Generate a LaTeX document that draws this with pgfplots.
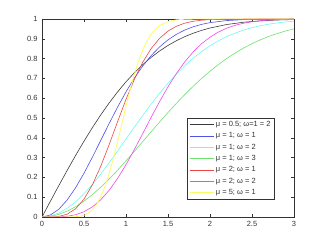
\documentclass[border=0pt]{standalone}
\usepackage{pgfplots}
\pgfplotsset{compat=1.18}
\usepackage{fontspec}
\setmainfont{Liberation Sans}
\definecolor{mk}{RGB}{60,60,60}
\definecolor{mb}{RGB}{80,80,235}
\definecolor{mc}{RGB}{110,250,235}
\definecolor{mg}{RGB}{110,225,110}
\definecolor{mr}{RGB}{235,70,70}
\definecolor{mm}{RGB}{240,70,240}
\definecolor{my}{RGB}{255,250,100}
\begin{document}
\begin{tikzpicture}
\path[use as bounding box] (0,0) rectangle (325pt,244pt);
\begin{axis}[
  at={(42pt,27pt)}, anchor=south west,
  scale only axis, width=252pt, height=198pt,
  xmin=0, xmax=3, ymin=0, ymax=1,
  xtick={0,0.5,...,3}, ytick={0,0.1,...,1},
  xticklabels={0,0.5,1,1.5,2,2.5,3},
  yticklabels={0,0.1,0.2,0.3,0.4,0.5,0.6,0.7,0.8,0.9,1},
  tick align=inside, major tick length=3pt,
  tick style={black!80, line width=0.4pt},
  axis line style={black!80, line width=0.5pt},
  tick label style={font=\fontsize{7.5}{8}\selectfont, text=black!80},
  xticklabel style={yshift=-1pt},
  yticklabel style={xshift=-1pt},
  legend style={at={(0.575,0.5)}, anchor=north west, draw=black!80, line width=0.5pt,
    font=\fontsize{7.5}{8}\selectfont, text=black!80, fill=white,
    inner xsep=2pt, inner ysep=1pt, row sep=0.6pt, /tikz/every even column/.append style={column sep=0pt}},
  legend cell align=left,
  legend image code/.code={\draw[#1] (0pt,0pt) -- (24pt,0pt);},
  every axis plot/.append style={line width=0.6pt},
]
\addplot[mk] coordinates {(0,0)(0.1,0.0797)(0.2,0.1585)(0.3,0.2358)(0.4,0.3108)(0.5,0.3829)(0.6,0.4515)(0.7,0.5161)(0.8,0.5763)(0.9,0.6319)(1.0,0.6827)(1.1,0.7287)(1.2,0.7699)(1.3,0.8064)(1.4,0.8385)(1.5,0.8664)(1.6,0.8904)(1.7,0.9109)(1.8,0.9281)(1.9,0.9426)(2.0,0.9545)(2.2,0.9722)(2.4,0.9836)(2.6,0.9907)(2.8,0.9949)(3.0,0.9973)};
\addlegendentry{μ = 0.5; ω=1 = 2}
\addplot[mb] coordinates {(0,0)(0.1,0.0100)(0.2,0.0392)(0.3,0.0861)(0.4,0.1479)(0.5,0.2212)(0.6,0.3023)(0.7,0.3874)(0.8,0.4727)(0.9,0.5551)(1.0,0.6321)(1.1,0.7018)(1.2,0.7631)(1.3,0.8155)(1.4,0.8591)(1.5,0.8946)(1.6,0.9227)(1.7,0.9444)(1.8,0.9608)(1.9,0.9729)(2.0,0.9817)(2.2,0.9921)(2.4,0.9968)(2.6,0.9988)(3.0,0.9999)};
\addlegendentry{μ = 1; ω = 1}
\addplot[mc] coordinates {(0,0)(0.1,0.0050)(0.2,0.0198)(0.3,0.0440)(0.4,0.0769)(0.5,0.1175)(0.6,0.1647)(0.7,0.2173)(0.8,0.2739)(0.9,0.3330)(1.0,0.3935)(1.1,0.4539)(1.2,0.5132)(1.3,0.5704)(1.4,0.6247)(1.5,0.6753)(1.6,0.7220)(1.7,0.7643)(1.8,0.8021)(1.9,0.8355)(2.0,0.8647)(2.1,0.8897)(2.2,0.9111)(2.3,0.9290)(2.4,0.9439)(2.5,0.9561)(2.6,0.9660)(2.7,0.9739)(2.8,0.9802)(2.9,0.9851)(3.0,0.9889)};
\addlegendentry{μ = 1; ω = 2}
\addplot[mg] coordinates {(0,0)(0.1,0.0033)(0.2,0.0132)(0.3,0.0296)(0.4,0.0519)(0.5,0.0800)(0.6,0.1131)(0.7,0.1507)(0.8,0.1921)(0.9,0.2366)(1.0,0.2835)(1.1,0.3319)(1.2,0.3812)(1.3,0.4307)(1.4,0.4797)(1.5,0.5276)(1.6,0.5740)(1.7,0.6184)(1.8,0.6604)(1.9,0.6998)(2.0,0.7364)(2.1,0.7701)(2.2,0.8008)(2.3,0.8285)(2.4,0.8534)(2.5,0.8755)(2.6,0.8950)(2.7,0.9120)(2.8,0.9267)(2.9,0.9394)(3.0,0.9502)};
\addlegendentry{μ = 1; ω = 3}
\addplot[mr] coordinates {(0,0)(0.1,0.0002)(0.2,0.0030)(0.3,0.0144)(0.4,0.0415)(0.5,0.0902)(0.6,0.1628)(0.7,0.2569)(0.8,0.3661)(0.9,0.4815)(1.0,0.5940)(1.1,0.6959)(1.2,0.7822)(1.3,0.8509)(1.4,0.9024)(1.5,0.9389)(1.6,0.9634)(1.7,0.9791)(1.8,0.9885)(1.9,0.9940)(2.0,0.9970)(2.2,0.9993)(2.5,1.0000)(3.0,1.0000)};
\addlegendentry{μ = 2; ω = 1}
\addplot[mm] coordinates {(0,0)(0.1,0.0000)(0.2,0.0008)(0.3,0.0038)(0.4,0.0115)(0.5,0.0265)(0.6,0.0512)(0.7,0.0872)(0.8,0.1352)(0.9,0.1948)(1.0,0.2642)(1.1,0.3410)(1.2,0.4219)(1.3,0.5036)(1.4,0.5831)(1.5,0.6575)(1.6,0.7248)(1.7,0.7838)(1.8,0.8340)(1.9,0.8753)(2.0,0.9084)(2.1,0.9342)(2.2,0.9538)(2.3,0.9683)(2.4,0.9787)(2.5,0.9860)(2.6,0.9910)(2.7,0.9943)(2.8,0.9965)(2.9,0.9979)(3.0,0.9988)};
\addlegendentry{μ = 2; ω = 2}
\addplot[my, line width=0.8pt] coordinates {(0,0)(0.1,0)(0.2,0)(0.3,0.0001)(0.4,0.0014)(0.45,0.0039)(0.5,0.0091)(0.55,0.0192)(0.6,0.0364)(0.65,0.0634)(0.7,0.1022)(0.75,0.1543)(0.8,0.2194)(0.85,0.2960)(0.9,0.3809)(0.95,0.4703)(1.0,0.5595)(1.05,0.6444)(1.1,0.7216)(1.15,0.7886)(1.2,0.8445)(1.25,0.8891)(1.3,0.9234)(1.35,0.9487)(1.4,0.9667)(1.5,0.9872)(1.6,0.9957)(1.7,0.9987)(1.8,0.9996)(2.0,1.0000)(3.0,1.0000)};
\addlegendentry{μ = 5; ω = 1}
\end{axis}
\end{tikzpicture}
\end{document}
